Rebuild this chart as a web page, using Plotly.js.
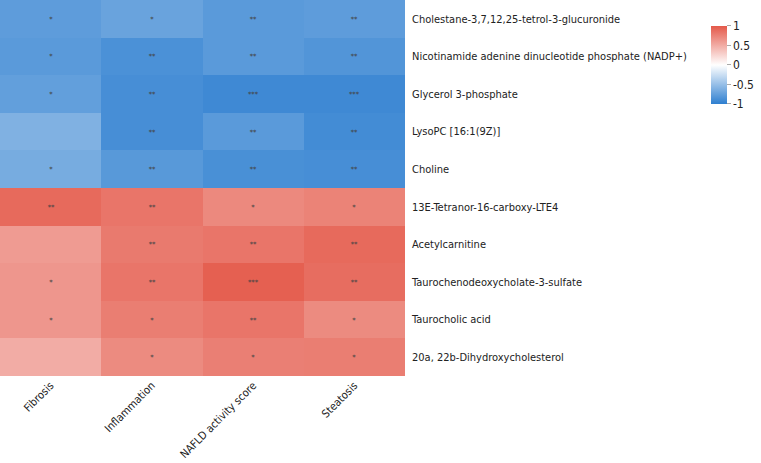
<!DOCTYPE html>
<html>
<head>
<meta charset="utf-8">
<script src="https://cdn.plot.ly/plotly-3.0.1.min.js"></script>
<style>html,body{margin:0;padding:0;background:#fff;}#chart{width:761px;height:463px;}</style>
</head>
<body>
<div id="chart"></div>
<script>
const traits = ["Fibrosis", "Inflammation", "NAFLD activity score", "Steatosis"];
const metabolites = [
  "Cholestane-3,7,12,25-tetrol-3-glucuronide",
  "Nicotinamide adenine dinucleotide phosphate (NADP+)",
  "Glycerol 3-phosphate",
  "LysoPC [16:1(9Z)]",
  "Choline",
  "13E-Tetranor-16-carboxy-LTE4",
  "Acetylcarnitine",
  "Taurochenodeoxycholate-3-sulfate",
  "Taurocholic acid",
  "20a, 22b-Dihydroxycholesterol"
];
const correlations = [
  [-0.77, -0.72, -0.79, -0.77],
  [-0.79, -0.86, -0.79, -0.83],
  [-0.75, -0.88, -0.92, -0.92],
  [-0.61, -0.88, -0.79, -0.90],
  [-0.65, -0.80, -0.87, -0.88],
  [ 0.90,  0.83,  0.71,  0.75],
  [ 0.60,  0.80,  0.83,  0.90],
  [ 0.63,  0.83,  0.96,  0.88],
  [ 0.63,  0.78,  0.83,  0.70],
  [ 0.50,  0.70,  0.77,  0.78]
];
const significance = [
  ["*", "*", "**", "**"],
  ["*", "**", "**", "**"],
  ["*", "**", "***", "***"],
  ["", "**", "**", "**"],
  ["*", "**", "**", "**"],
  ["**", "**", "*", "*"],
  ["", "**", "**", "**"],
  ["*", "**", "***", "**"],
  ["*", "*", "**", "*"],
  ["", "*", "*", "*"]
];
const cbTicks = [1, 0.5, 0, -0.5, -1];

const FONT = "'DejaVu Sans Condensed', 'DejaVu Sans', sans-serif";

const trace = {
  type: "heatmap",
  x: traits,
  y: metabolites,
  z: correlations,
  text: significance,
  texttemplate: "%{text}",
  textfont: {size: 7.5, color: "#444", family: FONT},
  zmin: -1, zmax: 1,
  colorscale: [[0, "#2e7fd0"], [0.5, "#ffffff"], [1, "#e4594a"]],
  hoverinfo: "x+y+z",
  colorbar: {
    xref: "container", yref: "container",
    x: 711/761, xanchor: "left",
    y: 1 - 32/463, yanchor: "top",
    lenmode: "pixels", len: 78,
    thickness: 16, thicknessmode: "pixels",
    xpad: 0, ypad: 0,
    outlinewidth: 0,
    tickmode: "array", tickvals: cbTicks, ticktext: cbTicks.map(String),
    ticks: "outside", ticklen: 4, tickcolor: "#aaa",
    tickfont: {size: 12, family: FONT, color: "#222"}
  }
};

const layout = {
  width: 761, height: 463,
  margin: {l: 0, r: 356, t: 0, b: 87, pad: 0},
  paper_bgcolor: "#fff", plot_bgcolor: "#fff",
  font: {family: FONT, size: 11, color: "#222"},
  xaxis: {
    tickangle: -45, showgrid: false, zeroline: false, ticks: "",
    tickfont: {size: 11, family: FONT, color: "#222"}, automargin: false
  },
  yaxis: {
    side: "right", autorange: "reversed", showgrid: false, zeroline: false, ticks: "",
    ticklabelstandoff: 6,
    tickfont: {size: 11, family: FONT, color: "#222"}, automargin: false
  }
};

Plotly.newPlot("chart", [trace], layout, {displayModeBar: false, staticPlot: true});
</script>
</body>
</html>
